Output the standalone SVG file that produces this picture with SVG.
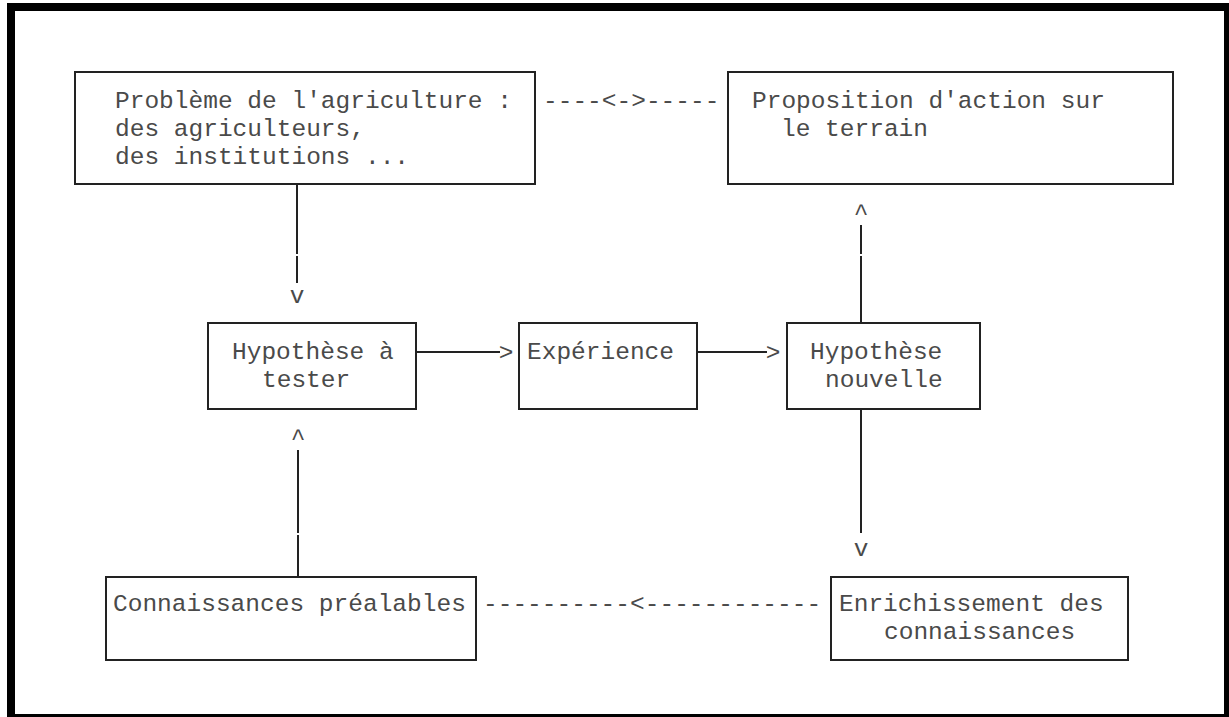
<svg xmlns="http://www.w3.org/2000/svg" width="1229" height="717" viewBox="0 0 1229 717">
<style>
.box{fill:#fff;stroke:#222;stroke-width:2}
.t{font-family:"Liberation Mono","Courier New",monospace;font-size:24.5px;fill:#4a4a4a}
.ln{stroke:#222;stroke-width:2;fill:none}
</style>
<rect x="0" y="0" width="1229" height="717" fill="#fff"/>
<rect x="7" y="3" width="1222" height="714" fill="#000"/>
<rect x="15" y="11" width="1209" height="703" fill="#fff"/>
<g id="connectors">
<text class="t" x="543" y="108">----&lt;-&gt;-----</text>
<line class="ln" x1="297" y1="184" x2="297" y2="254"/>
<line class="ln" x1="297" y1="256" x2="297" y2="283"/>
<text class="t" x="297" y="303" text-anchor="middle">v</text>
<line class="ln" x1="416" y1="352" x2="500" y2="352"/>
<text class="t" x="506" y="360" text-anchor="middle">&gt;</text>
<line class="ln" x1="697" y1="352" x2="767" y2="352"/>
<text class="t" x="773" y="360" text-anchor="middle">&gt;</text>
<text class="t" x="861" y="220" text-anchor="middle">^</text>
<line class="ln" x1="861" y1="225" x2="861" y2="254"/>
<line class="ln" x1="861" y1="256" x2="861" y2="323"/>
<line class="ln" x1="861" y1="409" x2="861" y2="533"/>
<text class="t" x="861" y="556" text-anchor="middle">v</text>
<text class="t" x="483" y="611">----------&lt;------------</text>
<text class="t" x="298" y="445" text-anchor="middle">^</text>
<line class="ln" x1="298" y1="450" x2="298" y2="533"/>
<line class="ln" x1="298" y1="535" x2="298" y2="577"/>
</g>
<g id="n-probleme">
<rect class="box" x="75" y="72" width="460" height="112"/>
<text class="t" x="115" y="108">Problème de l'agriculture :</text>
<text class="t" x="115" y="136">des agriculteurs,</text>
<text class="t" x="115" y="164">des institutions ...</text>
</g>
<g id="n-proposition">
<rect class="box" x="728" y="72" width="445" height="112"/>
<text class="t" x="752" y="108">Proposition d'action sur</text>
<text class="t" x="781" y="136">le terrain</text>
</g>
<g id="n-hyp-tester">
<rect class="box" x="208" y="323" width="208" height="86"/>
<text class="t" x="232" y="359">Hypothèse à</text>
<text class="t" x="262" y="387">tester</text>
</g>
<g id="n-experience">
<rect class="box" x="519" y="323" width="178" height="86"/>
<text class="t" x="527" y="359">Expérience</text>
</g>
<g id="n-hyp-nouvelle">
<rect class="box" x="787" y="323" width="193" height="86"/>
<text class="t" x="810" y="359">Hypothèse</text>
<text class="t" x="825" y="387">nouvelle</text>
</g>
<g id="n-enrichissement">
<rect class="box" x="831" y="577" width="297" height="83"/>
<text class="t" x="839" y="611">Enrichissement des</text>
<text class="t" x="884" y="639">connaissances</text>
</g>
<g id="n-connaissances">
<rect class="box" x="106" y="577" width="370" height="83"/>
<text class="t" x="113" y="611">Connaissances préalables</text>
</g>
</svg>
